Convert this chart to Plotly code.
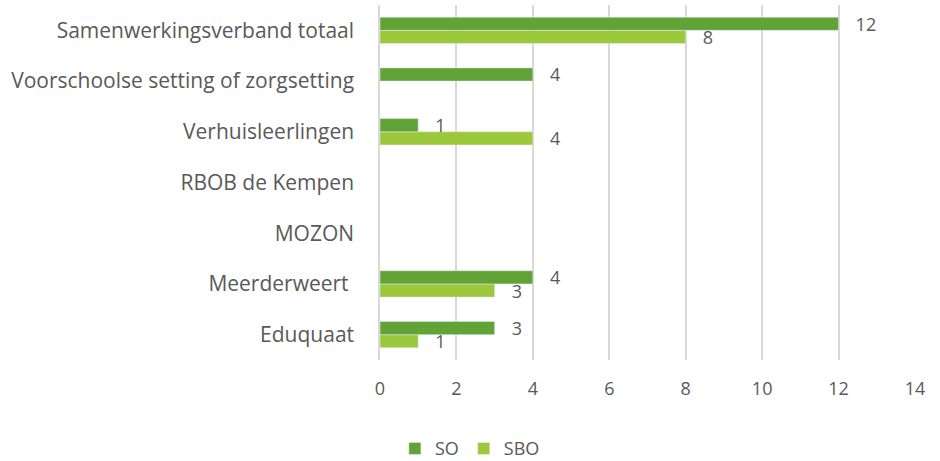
import plotly.graph_objects as go

categories = ["Eduquaat", "Meerderweert ", "MOZON", "RBOB de Kempen",
              "Verhuisleerlingen", "Voorschoolse setting of zorgsetting",
              "Samenwerkingsverband totaal"]
so_values = [3, 4, None, None, 1, 4, 12]
sbo_values = [1, 3, None, None, 4, None, 8]
x_ticks = [0, 2, 4, 6, 8, 10, 12, 14]

def labels(vals):
    return ["" if v is None else "   " + str(v) for v in vals]

font_family = "Open Sans, Liberation Sans, sans-serif"
text_color = "#595959"

fig = go.Figure()
# SBO added first so that SO sits on top within each group
fig.add_trace(go.Bar(
    y=categories, x=sbo_values, name="SBO", orientation="h",
    marker=dict(color="#9BC93B"),
    text=labels(sbo_values), textposition="outside", cliponaxis=False,
    constraintext="none",
    textfont=dict(size=18, color=text_color, family=font_family),
))
fig.add_trace(go.Bar(
    y=categories, x=so_values, name="SO", orientation="h",
    marker=dict(color="#62A337"),
    text=labels(so_values), textposition="outside", cliponaxis=False,
    constraintext="none",
    textfont=dict(size=18, color=text_color, family=font_family),
))

fig.update_layout(
    width=940, height=461,
    margin=dict(l=380, r=25, t=5, b=101, autoexpand=False),
    paper_bgcolor="white", plot_bgcolor="white",
    barmode="group", bargap=0.48, bargroupgap=0,
    font=dict(family=font_family, size=18, color=text_color),
    showlegend=True,
    legend=dict(orientation="h", x=0.168, xanchor="center", y=-0.25, yanchor="middle",
                traceorder="reversed", font=dict(size=18, color=text_color)),
    xaxis=dict(range=[0, 14], tickvals=x_ticks, showgrid=True, gridcolor="#D9D9D9",
               gridwidth=1.5, zeroline=False, showline=False, ticks="",
               automargin=False, ticklabelstandoff=16,
               tickfont=dict(size=18, color=text_color)),
    yaxis=dict(categoryorder="array", categoryarray=categories,
               showline=True, linecolor="#D9D9D9", linewidth=1.5, ticks="",
               automargin=False, ticklabelstandoff=20,
               tickfont=dict(size=21, color=text_color),
               showgrid=False),
)

fig.write_html(
    "out.html",
    config={"displayModeBar": False},
    post_script="document.body.style.margin='0';document.body.style.overflow='hidden';",
)
